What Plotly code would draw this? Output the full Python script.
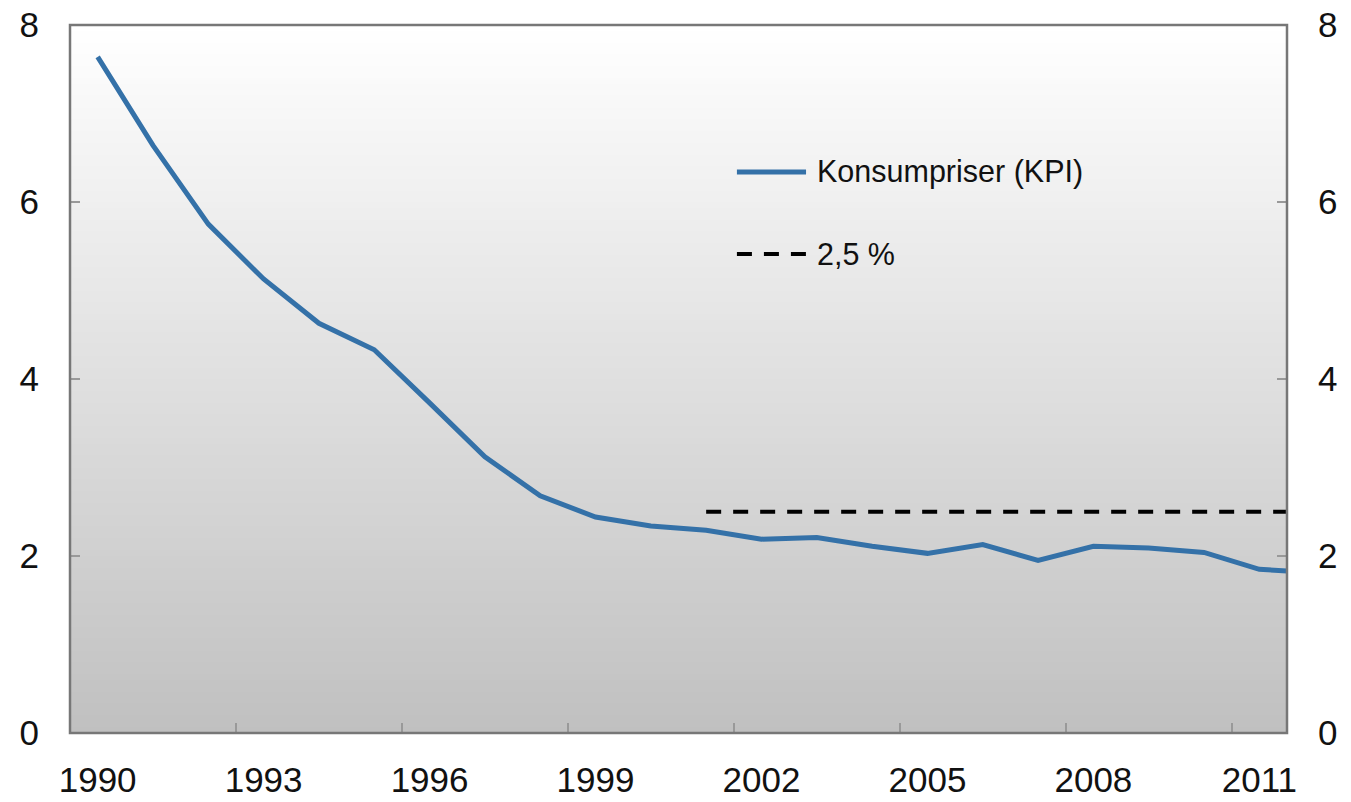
import plotly.graph_objects as go

years = list(range(1990, 2013))
kpi = [7.64, 6.64, 5.75, 5.13, 4.63, 4.33, 3.73, 3.12, 2.68, 2.44, 2.34, 2.29,
       2.19, 2.21, 2.11, 2.03, 2.13, 1.95, 2.11, 2.09, 2.04, 1.85, 1.81]
target_years = list(range(2001, 2013))
target = [2.5] * len(target_years)
label_years = [1990, 1993, 1996, 1999, 2002, 2005, 2008, 2011]
tick_labels = [str(y) for y in label_years]
boundary_ticks = [y - 0.5 for y in label_years[1:]]

BLUE = "#3471a8"
FONT = "Liberation Sans, Arial, sans-serif"

fig = go.Figure()
fig.add_trace(go.Scatter(x=years, y=kpi, mode="lines", name="Konsumpriser (KPI)",
                         line=dict(color=BLUE, width=5), showlegend=False))
fig.add_trace(go.Scatter(x=target_years, y=target, mode="lines", name="2,5 %",
                         line=dict(color="black", width=4, dash="15px,12px"), showlegend=False))

# gradient background (white at top to grey at bottom), stacked rects without seams
n = 120
shapes = []
for k in range(n, 0, -1):
    f = (k - 0.5) / n  # 0 bottom -> 1 top
    c = int(round(192 + (255 - 192) * f))
    shapes.append(dict(type="rect", xref="paper", yref="paper", x0=0, x1=1,
                       y0=0, y1=k / n, fillcolor=f"rgb({c},{c},{c})",
                       line=dict(width=0), layer="below"))
# frame
shapes.append(dict(type="rect", xref="paper", yref="paper", x0=0, x1=1, y0=0, y1=1,
                   line=dict(color="#777777", width=2.5), layer="above"))
# legend samples
shapes.append(dict(type="line", xref="paper", yref="paper", x0=0.548, x1=0.6048,
                   y0=0.7924, y1=0.7924, line=dict(color=BLUE, width=5)))
shapes.append(dict(type="line", xref="paper", yref="paper", x0=0.548, x1=0.6048,
                   y0=0.6766, y1=0.6766, line=dict(color="black", width=4, dash="15px,12px")))

annotations = [
    dict(text="Konsumpriser (KPI)", xref="paper", yref="paper", x=0.6125, y=0.7924,
         xanchor="left", yanchor="middle", showarrow=False,
         font=dict(family=FONT, size=30.5, color="#111111")),
    dict(text="2,5 %", xref="paper", yref="paper", x=0.6125, y=0.6766,
         xanchor="left", yanchor="middle", showarrow=False,
         font=dict(family=FONT, size=30.5, color="#111111")),
]

tickfont = dict(family=FONT, size=35, color="#111111")
yaxis_common = dict(range=[0, 8], tickvals=[0, 2, 4, 6, 8], ticks="inside", ticklen=10,
                    tickwidth=2, tickcolor="#999999", showgrid=False, zeroline=False,
                    showline=False, tickfont=tickfont, ticklabelstandoff=30,
                    automargin=False)

fig.update_layout(
    width=1351, height=802,
    margin=dict(l=70, r=64, t=25, b=69),
    paper_bgcolor="white", plot_bgcolor="rgba(0,0,0,0)",
    shapes=shapes, annotations=annotations, showlegend=False,
    xaxis=dict(range=[1989.5, 2011.5], tickvals=label_years, ticktext=tick_labels,
               ticks="", showgrid=False, zeroline=False, showline=False,
               tickfont=tickfont, ticklabelstandoff=23, automargin=False,
               minor=dict(tickvals=boundary_ticks, ticks="inside", ticklen=10,
                          tickwidth=2, tickcolor="#999999", showgrid=False)),
    yaxis=dict(**yaxis_common, side="left"),
    yaxis2=dict(**yaxis_common, side="right", overlaying="y", matches="y"),
)
fig.add_trace(go.Scatter(x=[years[0]], y=[kpi[0]], yaxis="y2", mode="lines",
                         line=dict(width=0), hoverinfo="skip", showlegend=False))

fig.write_html("out.html", config={"displayModeBar": False},
               post_script="document.body.style.margin='0';document.body.style.overflow='hidden';")
